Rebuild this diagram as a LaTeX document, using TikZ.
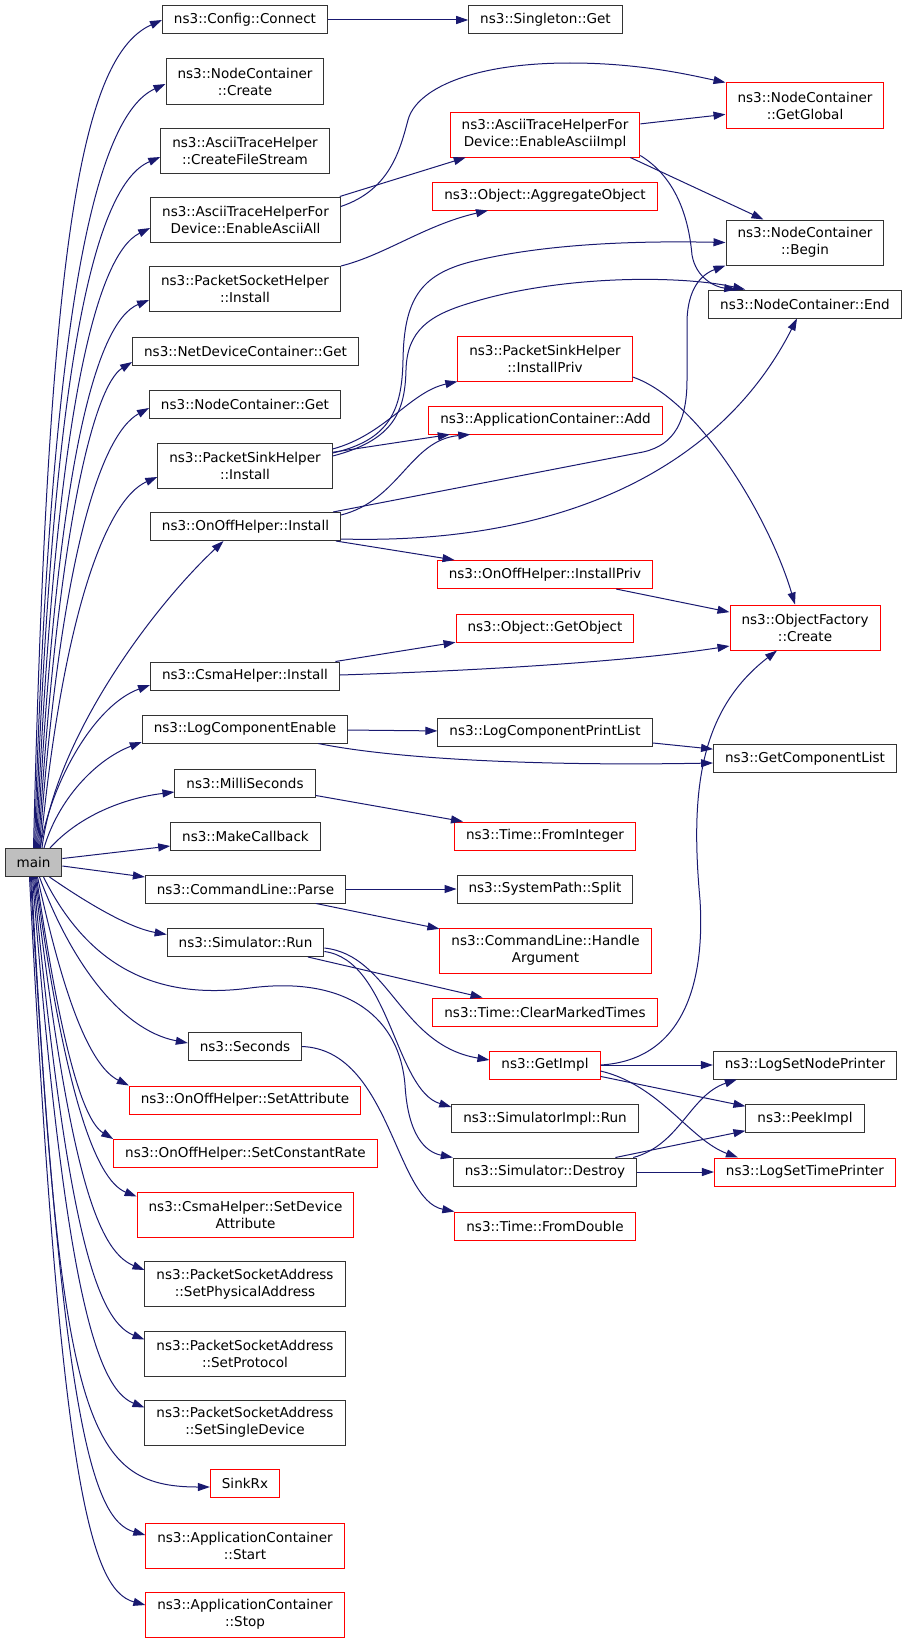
\documentclass[tikz,border=0pt]{standalone}
\usepackage{fontspec}
\setmainfont{DejaVu Sans}
\usetikzlibrary{arrows.meta, positioning}
\definecolor{edgeblue}{HTML}{191970}
\definecolor{mainfill}{HTML}{BFBFBF}
\tikzstyle{line} = [draw=edgeblue, line width=1bp, -{Triangle[length=12bp, width=8bp]}]

\begin{document}
\begin{tikzpicture}[x=1bp, y=-1bp, font=\fontsize{13.6}{17}\selectfont]
  % Define styles
  \tikzstyle{func} = [rectangle, draw=black!80, line width=1bp, inner xsep=11.5bp, inner ysep=2bp, minimum height=28bp, align=center]
  \tikzstyle{undoc} = [func, draw=red]
  \tikzstyle{twoline} = [minimum height=45bp]
  \useasboundingbox (0,0) rectangle (907,1643);

  % Place nodes
  \node [func, fill=mainfill, minimum width=55bp] (main) at (33.5,862.5) {main};

  \node [func] (connect) at (245,20) {ns3::Config::Connect};
  \node [func, twoline] (ncCreate) at (245,81.5) {ns3::NodeContainer\\::Create};
  \node [func, twoline] (createFileStream) at (245,150.5) {ns3::AsciiTraceHelper\\::CreateFileStream};
  \node [func, twoline] (enableAsciiAll) at (245.5,219.5) {ns3::AsciiTraceHelperFor\\Device::EnableAsciiAll};
  \node [func, twoline] (pshInstall) at (245,289) {ns3::PacketSocketHelper\\::Install};
  \node [func] (ndcGet) at (245.5,351) {ns3::NetDeviceContainer::Get};
  \node [func] (ncGet) at (245,404) {ns3::NodeContainer::Get};
  \node [func, twoline] (sinkInstall) at (245,465.5) {ns3::PacketSinkHelper\\::Install};
  \node [func] (onoffInstall) at (245.5,526.5) {ns3::OnOffHelper::Install};
  \node [func] (csmaInstall) at (245,676) {ns3::CsmaHelper::Install};
  \node [func] (logEnable) at (245,729) {ns3::LogComponentEnable};
  \node [func] (milliSeconds) at (245,783) {ns3::MilliSeconds};
  \node [func] (makeCallback) at (245.5,836) {ns3::MakeCallback};
  \node [func] (cmdParse) at (245.5,889) {ns3::CommandLine::Parse};
  \node [func] (simRun) at (245.5,942.5) {ns3::Simulator::Run};
  \node [func] (seconds) at (245,1046.5) {ns3::Seconds};
  \node [undoc] (setAttribute) at (245,1100) {ns3::OnOffHelper::SetAttribute};
  \node [undoc] (setConstantRate) at (245.5,1153.5) {ns3::OnOffHelper::SetConstantRate};
  \node [undoc, twoline] (setDeviceAttr) at (245.5,1214.5) {ns3::CsmaHelper::SetDevice\\Attribute};
  \node [func, twoline] (setPhysAddr) at (245,1284) {ns3::PacketSocketAddress\\::SetPhysicalAddress};
  \node [func, twoline] (setProtocol) at (245,1353.5) {ns3::PacketSocketAddress\\::SetProtocol};
  \node [func, twoline] (setSingleDevice) at (245,1422.5) {ns3::PacketSocketAddress\\::SetSingleDevice};
  \node [undoc] (sinkRx) at (245,1483.5) {SinkRx};
  \node [undoc, twoline] (appStart) at (245,1545.5) {ns3::ApplicationContainer\\::Start};
  \node [undoc, twoline] (appStop) at (245,1614.5) {ns3::ApplicationContainer\\::Stop};

  \node [func] (singletonGet) at (545.5,20) {ns3::Singleton::Get};
  \node [undoc, twoline] (enableAsciiImpl) at (545,134.5) {ns3::AsciiTraceHelperFor\\Device::EnableAsciiImpl};
  \node [undoc] (aggregateObject) at (545,196) {ns3::Object::AggregateObject};
  \node [undoc, twoline] (sinkInstallPriv) at (545,358.5) {ns3::PacketSinkHelper\\::InstallPriv};
  \node [undoc] (appAdd) at (545.5,420) {ns3::ApplicationContainer::Add};
  \node [undoc] (onoffInstallPriv) at (545,574.5) {ns3::OnOffHelper::InstallPriv};
  \node [undoc] (getObject) at (545,628) {ns3::Object::GetObject};
  \node [func] (logPrintList) at (545,732) {ns3::LogComponentPrintList};
  \node [undoc] (fromInteger) at (545,836) {ns3::Time::FromInteger};
  \node [func] (pathSplit) at (545,889) {ns3::SystemPath::Split};
  \node [undoc, twoline] (handleArgument) at (545.5,950.5) {ns3::CommandLine::Handle\\Argument};
  \node [undoc] (clearMarkedTimes) at (545,1012) {ns3::Time::ClearMarkedTimes};
  \node [undoc] (getImpl) at (545,1065) {ns3::GetImpl};
  \node [func] (simImplRun) at (545,1118.5) {ns3::SimulatorImpl::Run};
  \node [func] (simDestroy) at (545,1172) {ns3::Simulator::Destroy};
  \node [undoc] (fromDouble) at (545,1226) {ns3::Time::FromDouble};

  \node [undoc, twoline] (getGlobal) at (805,105.5) {ns3::NodeContainer\\::GetGlobal};
  \node [func, twoline] (ncBegin) at (805,242.5) {ns3::NodeContainer\\::Begin};
  \node [func] (ncEnd) at (805,304) {ns3::NodeContainer::End};
  \node [undoc, twoline] (factoryCreate) at (805,627.5) {ns3::ObjectFactory\\::Create};
  \node [func] (getComponentList) at (805,758.5) {ns3::GetComponentList};
  \node [func] (logNodePrinter) at (805,1065) {ns3::LogSetNodePrinter};
  \node [func] (peekImpl) at (805,1118.5) {ns3::PeekImpl};
  \node [undoc] (logTimePrinter) at (805,1172) {ns3::LogSetTimePrinter};

  % Draw edges from main (upwards)
  \path [line] (main.north) .. controls (48,250) and (80,57) .. (connect.west);
  \path [line] ([xshift=1bp]main.north) .. controls (50,300) and (97,115) .. ([yshift=-2.5bp]ncCreate.west);
  \path [line] ([xshift=2bp]main.north) .. controls (52,360) and (95,185) .. ([yshift=-6.5bp]createFileStream.west);
  \path [line] ([xshift=3bp]main.north) .. controls (54,420) and (95,255) .. ([yshift=-8.5bp]enableAsciiAll.west);
  \path [line] ([xshift=4bp]main.north) .. controls (56,470) and (95,322) .. ([yshift=-11bp]pshInstall.west);
  \path [line] ([xshift=5bp]main.north) .. controls (58,520) and (95,385) .. ([yshift=-11bp]ndcGet.west);
  \path [line] ([xshift=6bp]main.north) .. controls (60,560) and (100,435) .. ([yshift=-4bp]ncGet.west);
  \path [line] ([xshift=7bp]main.north) .. controls (62,620) and (105,500) .. ([yshift=-11.5bp]sinkInstall.west);
  \path [line] ([xshift=8.5bp]main.north) .. controls (55,740) and (150,610) .. ([xshift=-22bp]onoffInstall.south);
  \path [line] ([xshift=6.5bp]main.north) .. controls (52,780) and (95,705) .. ([yshift=-9bp]csmaInstall.west);
  \path [line] ([xshift=10.5bp]main.north) .. controls (58,800) and (95,760) .. ([yshift=-13bp]logEnable.west);
  \path [line] ([xshift=16.5bp]main.north) .. controls (80,815) and (125,798) .. ([yshift=-9bp]milliSeconds.west);
  % Draw edges from main (sideways)
  \path [line] ([yshift=4bp]main.east) -- ([yshift=-10bp]makeCallback.west);
  \path [line] ([yshift=-3.5bp]main.east) -- ([yshift=12bp]cmdParse.west);
  \path [line] ([xshift=16bp]main.south) .. controls (90,905) and (130,928) .. ([yshift=8bp]simRun.west);
  % Draw edges from main (downwards)
  \path [line] ([xshift=6bp]main.south) .. controls (70,960) and (120,1030) .. ([yshift=3.5bp]seconds.west);
  \path [line] ([xshift=10bp]main.south) .. controls (90,970) and (160,1000) .. (250,988)
    .. controls (350,975) and (400,1020) .. (405,1085) .. controls (408,1135) and (425,1152) .. (simDestroy.north west);
  \path [line] ([xshift=4bp]main.south) .. controls (62,990) and (88,1065) .. (setAttribute.north west);
  \path [line] ([xshift=3bp]main.south) .. controls (60,1040) and (82,1120) .. (setConstantRate.north west);
  \path [line] ([xshift=2bp]main.south) .. controls (64,1090) and (95,1180) .. ([yshift=-5bp]setDeviceAttr.north west);
  \path [line] ([xshift=1bp]main.south) .. controls (68,1160) and (95,1250) .. ([yshift=-9bp]setPhysAddr.north west);
  \path [line] (main.south) .. controls (66,1220) and (95,1320) .. ([yshift=-9bp]setProtocol.north west);
  \path [line] ([xshift=-1bp]main.south) .. controls (64,1280) and (95,1388) .. ([yshift=-8bp]setSingleDevice.north west);
  \path [line] ([xshift=-2bp]main.south) .. controls (60,1420) and (85,1487) .. ([yshift=-3.5bp]sinkRx.west);
  \path [line] ([xshift=-3bp]main.south) .. controls (62,1420) and (92,1520) .. ([yshift=10.5bp]appStart.west);
  \path [line] ([xshift=-4bp]main.south) .. controls (60,1480) and (90,1590) .. ([yshift=9.5bp]appStop.west);

  % Draw edges between callees
  \path [line] (connect) -- (singletonGet);
  \path [line] ([xshift=-1bp]enableAsciiAll.north east) -- ([xshift=16bp]enableAsciiImpl.south west);
  \path [line] ([yshift=-10bp]enableAsciiAll.north east) .. controls (390,190) and (400,150) .. (408,120)
    .. controls (416,90) and (470,63) .. (570,63) .. controls (640,63) and (690,75) .. (getGlobal.north west);
  \path [line] (enableAsciiImpl) -- (getGlobal);
  \path [line] ([xshift=-10bp]enableAsciiImpl.south east) -- ([xshift=38bp]ncBegin.north west);
  \path [line] ([yshift=2bp]enableAsciiImpl.south east) .. controls (672,175) and (688,210) .. (692,255)
    .. controls (696,278) and (715,287) .. ([xshift=28bp]ncEnd.north west);
  \path [line] (pshInstall.north east) .. controls (385,255) and (425,225) .. ([xshift=-57bp]aggregateObject.south);
  \path [line] (sinkInstall) -- (appAdd);
  \path [line] ([yshift=16.5bp]sinkInstall.east) .. controls (385,435) and (410,392) .. (sinkInstallPriv.south west);
  \path [line] ([yshift=12.5bp]sinkInstall.east) .. controls (390,440) and (402,410) .. (403,360)
    .. controls (404,300) and (420,275) .. (470,262) .. controls (550,242) and (650,241) .. (ncBegin.west);
  \path [line] ([yshift=9.5bp]sinkInstall.east) .. controls (395,440) and (405,410) .. (406,370)
    .. controls (407,330) and (430,315) .. (470,303) .. controls (560,275) and (680,275) .. ([xshift=37bp]ncEnd.north west);
  \path [line] ([yshift=-3bp]onoffInstall.north east) .. controls (400,500) and (410,440) .. ([xshift=42bp]appAdd.south west);
  \path [line] ([xshift=-8bp]onoffInstall.north east) -- (643,452) .. controls (675,445) and (687,420) .. (687,380)
    -- (687,320) .. controls (688,290) and (700,275) .. (ncBegin.south west);
  \path [line] ([yshift=-12.5bp]onoffInstall.east) .. controls (560,545) and (720,470) .. ([xshift=-8bp]ncEnd.south);
  \path [line] (onoffInstall) -- (onoffInstallPriv);
  \path [line] ([yshift=-18.5bp]sinkInstallPriv.east) .. controls (700,400) and (770,520) .. ([xshift=-10bp]factoryCreate.north);
  \path [line] (onoffInstallPriv) -- (factoryCreate);
  \path [line] (csmaInstall) -- (getObject);
  \path [line] ([yshift=1bp]csmaInstall.east) .. controls (500,670) and (640,660) .. ([yshift=-18.5bp]factoryCreate.west);
  \path [line] (logEnable) -- (logPrintList);
  \path [line] ([xshift=-30bp]logEnable.south east) .. controls (400,760) and (550,766) .. ([yshift=-4.5bp]getComponentList.west);
  \path [line] (logPrintList) -- (getComponentList);
  \path [line] (milliSeconds) -- (fromInteger);
  \path [line] (cmdParse) -- (pathSplit);
  \path [line] (cmdParse) -- (handleArgument);
  \path [line] (simRun) -- (clearMarkedTimes);
  \path [line] ([yshift=-5.5bp]simRun.east) .. controls (390,955) and (400,1045) .. ([yshift=5bp]getImpl.west);
  \path [line] ([yshift=-9bp]simRun.east) .. controls (390,960) and (395,1090) .. ([yshift=-3bp]simImplRun.north west);
  \path [line] (seconds.east) .. controls (390,1050) and (395,1200) .. (fromDouble.north west);
  \path [line] (getImpl) -- (logNodePrinter);
  \path [line] (getImpl) -- (peekImpl);
  \path [line] ([yshift=-6bp]getImpl.east) .. controls (660,1085) and (690,1140) .. ([xshift=24bp]logTimePrinter.north west);
  \path [line] (getImpl.east) .. controls (685,1060) and (705,980) .. (700,900)
    .. controls (690,790) and (700,710) .. ([xshift=-28bp]factoryCreate.south);
  \path [line] ([xshift=-4bp]simDestroy.north east) .. controls (680,1145) and (690,1095) .. ([xshift=24bp]logNodePrinter.south west);
  \path [line] (simDestroy) -- (peekImpl);
  \path [line] (simDestroy) -- (logTimePrinter);
\end{tikzpicture}
\end{document}
